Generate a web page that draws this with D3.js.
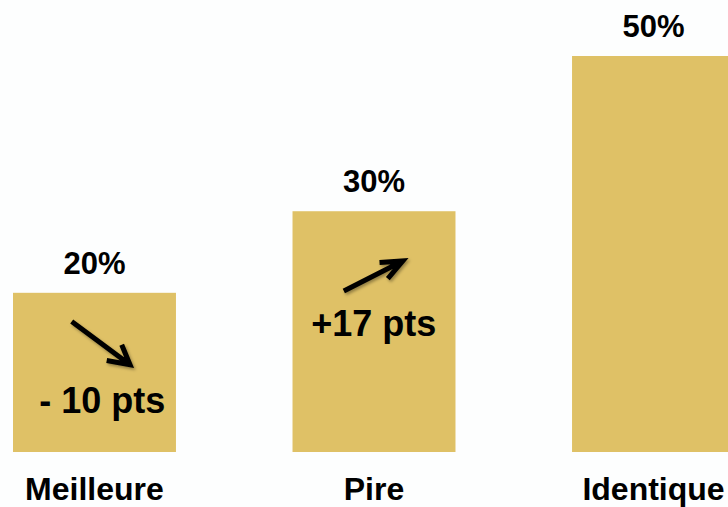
<!DOCTYPE html>
<html>
<head>
<meta charset="utf-8">
<script src="https://cdn.jsdelivr.net/npm/d3@7"></script>
<style>
  html, body { margin: 0; padding: 0; background: #fdfefe; }
  svg { display: block; }
  text { font-family: "Liberation Sans", Arial, sans-serif; font-weight: bold; fill: #000; }
</style>
</head>
<body>
<svg id="chart" width="728" height="507"></svg>
<script>
const categories = ["Meilleure", "Pire", "Identique"];
const values = [20.1, 30.4, 50];
const valueLabels = ["20%", "30%", "50%"];
const changeLabels = ["- 10 pts", "+17 pts", ""];
const changeDirections = ["down", "up", ""];

const W = 728, H = 507;
const svg = d3.select("#chart");
svg.append("rect").attr("width", W).attr("height", H).attr("fill", "#fdfefe");

const defs = svg.append("defs");
const f = defs.append("filter").attr("id", "shadow").attr("x", "-30%").attr("y", "-30%").attr("width", "160%").attr("height", "160%");
f.append("feDropShadow").attr("dx", 1.5).attr("dy", 2).attr("stdDeviation", 1.5).attr("flood-color", "#000").attr("flood-opacity", 0.35);

const x = d3.scaleBand().domain(categories).range([13, 735]).paddingInner(0.417).paddingOuter(0);
const y = d3.scaleLinear().domain([0, 50]).range([452, 56]);

const g = svg.append("g");
g.selectAll("rect.bar").data(categories).join("rect")
  .attr("class", "bar")
  .attr("x", d => x(d))
  .attr("y", (d, i) => y(values[i]))
  .attr("width", x.bandwidth())
  .attr("height", (d, i) => y(0) - y(values[i]))
  .attr("fill", "#dfc166");

g.selectAll("text.val").data(categories).join("text")
  .attr("class", "val")
  .attr("x", d => x(d) + x.bandwidth() / 2)
  .attr("y", (d, i) => y(values[i]) - 19)
  .attr("text-anchor", "middle")
  .style("font-size", "31px")
  .text((d, i) => valueLabels[i]);

g.selectAll("text.cat").data(categories).join("text")
  .attr("class", "cat")
  .attr("x", d => x(d) + x.bandwidth() / 2)
  .attr("y", 500)
  .attr("text-anchor", "middle")
  .style("font-size", "32px")
  .text(d => d);

// change annotations (positions relative to each bar)
categories.forEach((c, i) => {
  if (!changeLabels[i]) return;
  const bx = x(c), by = y(values[i]);
  let p0, p1, a1, a2, tx, ty;
  if (changeDirections[i] === "down") {
    p0 = [bx + 58.7, by + 28.7]; p1 = [bx + 117, by + 72];
    a1 = [bx + 93.7, by + 67.7]; a2 = [bx + 108.7, by + 52];
    tx = bx + 26.3; ty = by + 120;
  } else {
    p0 = [bx + 51.3, by + 79.7]; p1 = [bx + 110.3, by + 49.7];
    a1 = [bx + 87, by + 51.3]; a2 = [bx + 95.3, by + 67.3];
    tx = bx + 18.7; ty = by + 125;
  }
  const ag = g.append("g").attr("filter", "url(#shadow)");
  ag.append("path")
    .attr("d", d3.line()([p0, p1]) + d3.line()([a1, p1, a2]))
    .attr("fill", "none")
    .attr("stroke", "#000")
    .attr("stroke-width", 5)
    .attr("stroke-linejoin", "miter")
    .attr("stroke-linecap", "butt");
  g.append("text")
    .attr("x", tx).attr("y", ty)
    .style("font-size", "36px")
    .text(changeLabels[i]);
});
</script>
</body>
</html>
